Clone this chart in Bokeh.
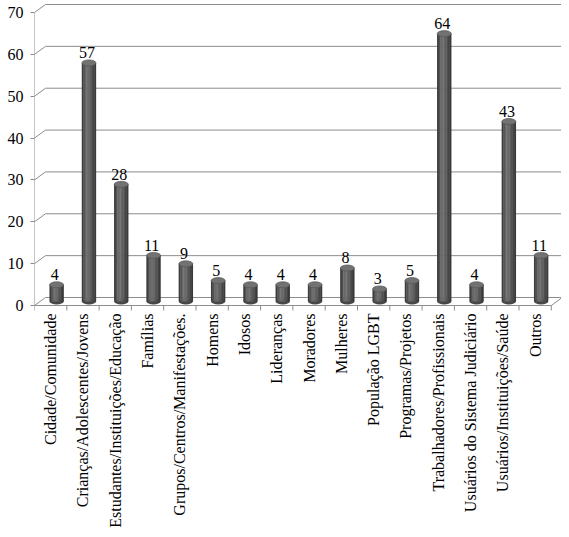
from math import pi
from bokeh.plotting import figure
from bokeh.models import Range1d, FixedTicker, ColumnDataSource
from bokeh.core.properties import value
from bokeh.embed import file_html
from bokeh.resources import INLINE

categories = [
    "Cidade/Comunidade",
    "Crianças/Adolescentes/Jovens",
    "Estudantes/Instituições/Educação",
    "Famílias",
    "Grupos/Centros/Manifestações.",
    "Homens",
    "Idosos",
    "Lideranças",
    "Moradores",
    "Mulheres",
    "População LGBT",
    "Programas/Projetos",
    "Trabalhadores/Profissionais",
    "Usuários do Sistema Judiciário",
    "Usuários/Instituições/Saúde",
    "Outros",
]
counts = [4, 57, 28, 11, 9, 5, 4, 4, 4, 8, 3, 5, 64, 4, 43, 11]
y_ticks = [0, 10, 20, 30, 40, 50, 60, 70]

FONT = "Liberation Serif"
GRID = "#8c8c8c"
n = len(categories)

W, H = 561, 529
LEFT = 34
FRAME_W = W - LEFT
PX_PER_CAT = 32.3
PX_PER_UNIT = 4.1857

# geometry (data units)
X_END = FRAME_W / PX_PER_CAT
Y_END = 70 + 12 / PX_PER_UNIT
Y_START = Y_END - H / PX_PER_UNIT
DX = 11 / PX_PER_CAT       # depth offset in x
DY = 8 / PX_PER_UNIT       # depth offset in y
BAR_W = 14 / PX_PER_CAT
BAR_SHIFT = 6 / PX_PER_CAT
BASE = DY / 2
TICK_LEN = 5 / PX_PER_UNIT
LABEL_GAP = 8 / PX_PER_UNIT

p = figure(width=W, height=H, output_backend="svg", toolbar_location=None,
           x_range=Range1d(0, X_END), y_range=Range1d(Y_START, Y_END),
           x_axis_location=None,
           min_border_left=LEFT, min_border_right=0, min_border_top=0,
           min_border_bottom=0)
p.outline_line_color = None
p.xgrid.visible = False
p.ygrid.visible = False
p.background_fill_color = "white"
p.border_fill_color = "white"

# back wall gridlines (with slanted left-wall part)
gx = [[0, DX, X_END] for _ in y_ticks]
gy = [[t, t + DY, t + DY] for t in y_ticks]
p.multi_line(gx, gy, line_color=GRID, line_width=1)

# left axis line and front floor edge
p.line([0, 0], [0, y_ticks[-1]], line_color=GRID, line_width=1)
p.line([0, n, n + DX], [0, 0, DY], line_color=GRID, line_width=1)

# category boundary ticks
bounds = list(range(n + 1))
p.segment(x0=bounds, y0=[0] * len(bounds), x1=bounds,
          y1=[-TICK_LEN] * len(bounds), line_color=GRID, line_width=1)

# cylinders
cx = [i + 0.5 + BAR_SHIFT for i in range(n)]
tops = [BASE + c for c in counts]
strip_colors = ["#3c3c3c", "#525252", "#666666", "#6e6e6e", "#686868",
                "#5e5e5e", "#525252", "#464646", "#3a3a3a"]
ns = len(strip_colors)
sw = BAR_W / ns
p.ellipse(x=cx, y=[BASE] * n, width=BAR_W, height=6, height_units="screen",
          fill_color="#474747", line_color=None)
for k, col in enumerate(strip_colors):
    xs = [c - BAR_W / 2 + sw * (k + 0.5) for c in cx]
    p.vbar(x=xs, width=sw * 1.25, bottom=BASE, top=tops,
           fill_color=col, line_color=None)
p.ellipse(x=cx, y=tops, width=BAR_W, height=6, height_units="screen",
          fill_color="#727272", line_color="#545454", line_width=0.7)

# value labels
lab = ColumnDataSource(dict(x=[c - 0.06 for c in cx],
                            y=[t + 2.4 for t in tops],
                            t=[str(c) for c in counts]))
p.text(x="x", y="y", text="t", source=lab, text_align="center",
       text_baseline="alphabetic", text_font=value(FONT),
       text_font_size="16px", text_color="black")

# category labels (rotated, reading bottom to top)
centers = [i + 0.5 for i in range(n)]
cat_src = ColumnDataSource(dict(x=centers, y=[-LABEL_GAP] * n, t=categories))
p.text(x="x", y="y", text="t", source=cat_src, angle=pi / 2,
       text_align="right", text_baseline="middle",
       text_font=value(FONT), text_font_size="16px", text_color="black")

# y axis
ya = p.yaxis[0]
ya.ticker = FixedTicker(ticks=y_ticks)
ya.axis_line_color = None
ya.major_tick_line_color = GRID
ya.major_tick_out = 4
ya.major_tick_in = 0
ya.minor_tick_line_color = None
ya.major_label_standoff = 7
ya.major_label_text_font = FONT
ya.major_label_text_font_size = "16px"
ya.major_label_text_color = "black"

open("out.html", "w").write(file_html(p, INLINE))
